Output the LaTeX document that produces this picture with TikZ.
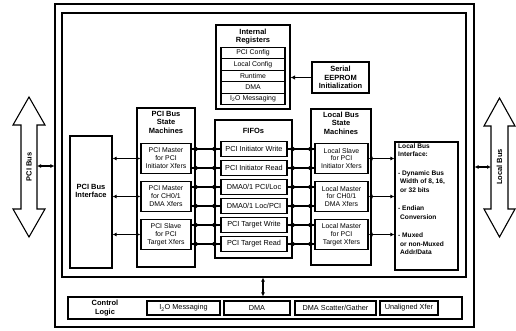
\documentclass[tikz,border=0pt]{standalone}
\usepackage{fontspec}
\setmainfont{Liberation Sans}
\usetikzlibrary{arrows.meta}
\begin{document}
\begin{tikzpicture}[x=1pt,y=-1pt,
  bx/.style={draw, line width=1.1pt, inner sep=0pt, align=center},
  ttl/.style={font=\fontsize{7.5}{8.5}\selectfont\bfseries, align=center, inner sep=0pt},
  txt/.style={font=\fontsize{7.3}{8}\selectfont, align=center},
  rtxt/.style={font=\fontsize{6.9}{7.9}\selectfont, align=center},
  con/.style={line width=1.1pt},
  dbl/.style={line width=1.1pt, {Latex[length=4pt,width=4pt]}-{Latex[length=4pt,width=4pt]}},
  busarrow/.style={draw, line width=1.1pt, fill=white, line join=miter},
  blob/.style={fill=black}
]
\useasboundingbox (0,0) rectangle (516,330);

% outer frames
\node[bx, minimum width=419pt, minimum height=323pt] (outer) at (264.5,165.5) {};
\node[bx, minimum width=404pt, minimum height=264pt] (inner) at (264,145) {};

% control logic
\node[bx, minimum width=394pt, minimum height=22pt] (ctl) at (265,308) {};
\node[ttl] (ctltxt) at (105,308) {Control\\Logic};
\node[bx, txt, minimum width=73pt, minimum height=14pt] (c1) at (183.5,308) {I\textsubscript{2}O Messaging};
\node[bx, txt, minimum width=66pt, minimum height=14pt] (c2) at (257,308) {DMA};
\node[bx, txt, minimum width=81pt, minimum height=14pt] (c3) at (335.5,308) {DMA Scatter/Gather};
\node[bx, txt, minimum width=58pt, minimum height=14pt] (c4) at (409,308) {Unaligned Xfer};
\coordinate (ax) at (263,0);
\draw[dbl] (inner.south -| ax) -- (ctl.north -| ax);

% internal registers
\node[bx, minimum width=74pt, minimum height=84pt] (ir) at (253,67) {};
\node[ttl] (irt) at (253,36.5) {Internal\\Registers};
\node[bx, rtxt, minimum width=64pt, minimum height=11.5pt] (r1) at (253,53) {PCI Config};
\node[bx, rtxt, minimum width=64pt, minimum height=11.5pt] (r2) at (253,64.5) {Local Config};
\node[bx, rtxt, minimum width=64pt, minimum height=11.5pt] (r3) at (253,76) {Runtime};
\node[bx, rtxt, minimum width=64pt, minimum height=11.5pt] (r4) at (253,87.5) {DMA};
\node[bx, rtxt, minimum width=64pt, minimum height=11.5pt] (r5) at (253,99) {I\textsubscript{2}O Messaging};

% serial EEPROM
\node[bx, ttl, draw, line width=1.1pt, minimum width=57pt, minimum height=31pt] (ee) at (340.5,77.5) {Serial\\EEPROM\\Initialization};
\draw[con, -{Latex[length=4.5pt,width=4.5pt]}] (ee.west) -- (ee.west -| ir.east);

% FIFOs
\node[bx, minimum width=77pt, minimum height=138pt] (fifo) at (253.5,189) {};
\node[ttl] (fifot) at (253.5,131) {FIFOs};
\node[bx, txt, minimum width=66pt, minimum height=15pt] (f1) at (254,149) {PCI Initiator Write};
\node[bx, txt, minimum width=66pt, minimum height=15pt] (f2) at (254,168) {PCI Initiator Read};
\node[bx, txt, minimum width=66pt, minimum height=15pt] (f3) at (254,187) {DMA0/1 PCI/Loc};
\node[bx, txt, minimum width=66pt, minimum height=15pt] (f4) at (254,206) {DMA0/1 Loc/PCI};
\node[bx, txt, minimum width=66pt, minimum height=15pt] (f5) at (254,225) {PCI Target Write};
\node[bx, txt, minimum width=66pt, minimum height=15pt] (f6) at (254,244) {PCI Target Read};

% PCI bus state machines
\node[bx, minimum width=58pt, minimum height=159pt] (psm) at (166,187.5) {};
\node[ttl] (psmt) at (166,122) {PCI Bus\\State\\Machines};
\node[bx, rtxt, minimum width=50pt, minimum height=30pt] (p1) at (166,158.5) {PCI Master\\for PCI\\Initiator Xfers};
\node[bx, rtxt, minimum width=50pt, minimum height=30pt] (p2) at (166,196.5) {PCI Master\\for CH0/1\\DMA Xfers};
\node[bx, rtxt, minimum width=50pt, minimum height=30pt] (p3) at (166,234.5) {PCI Slave\\for PCI\\Target Xfers};

% local bus state machines
\node[bx, minimum width=60pt, minimum height=156pt] (lsm) at (341,187) {};
\node[ttl] (lsmt) at (341,123) {Local Bus\\State\\Machines};
\node[bx, rtxt, minimum width=53pt, minimum height=30pt] (l1) at (341.5,158.5) {Local Slave\\for PCI\\Initiator Xfers};
\node[bx, rtxt, minimum width=53pt, minimum height=30pt] (l2) at (341.5,196.5) {Local Master\\for CH0/1\\DMA Xfers};
\node[bx, rtxt, minimum width=53pt, minimum height=30pt] (l3) at (341.5,234.5) {Local Master\\for PCI\\Target Xfers};

% PCI bus interface
\node[bx, minimum width=42pt, minimum height=132pt] (pbi) at (91,202) {};
\node[ttl] (pbit) at (91,191) {PCI Bus\\Interface};

% local bus interface
\node[bx, minimum width=63pt, minimum height=128pt] (lbi) at (426.5,206) {};
\node[anchor=north west, inner sep=0pt, align=left, font=\fontsize{6.6}{8.5}\selectfont\bfseries] (lbit) at (398,143.5)
 {Local Bus\\Interface:\\[10pt]
  - Dynamic Bus\\\hspace*{2pt}Width of 8, 16,\\\hspace*{2pt}or 32 bits\\[10pt]
  - Endian\\\hspace*{2pt}Conversion\\[10pt]
  - Muxed\\\hspace*{2pt}or non-Muxed\\\hspace*{2pt}Addr/Data};

% bus arrows
\draw[busarrow] (29,97) -- (45,125) -- (37,125) -- (37,209) -- (45,209) -- (29,237) -- (13,209) -- (21,209) -- (21,125) -- (13,125) -- cycle;
\node[ttl, rotate=90] (pcibus) at (29,167) {PCI Bus};
\coordinate (pcibusE) at (37,166);
\draw[dbl] (pcibusE) -- (pcibusE -| outer.west);

\draw[busarrow] (499.5,98) -- (515,126) -- (508,126) -- (508,209) -- (515,209) -- (499.5,237) -- (484,209) -- (491,209) -- (491,126) -- (484,126) -- cycle;
\node[ttl, rotate=90] (localbus) at (499.5,167) {Local Bus};
\coordinate (localbusW) at (491,167);
\draw[dbl] (localbusW -| outer.east) -- (localbusW);

% connectors PCI interface <-> PCI state machines
\foreach \p in {p1,p2,p3}{
  \draw[dbl] (pbi.east |- \p) -- (\p.west);
}
% connectors local state machines <-> local bus interface
\foreach \l in {l1,l2,l3}{
  \draw[dbl] (\l.east) -- (lbi.west |- \l);
}
% connectors to FIFOs
\foreach \p/\l/\f in {p1/l1/f1,p1/l1/f2,p2/l2/f3,p2/l2/f4,p3/l3/f5,p3/l3/f6}{
  \draw[con] (\p.east |- \f) -- (\f.west);
  \fill[blob] (psm.east |- \f) circle (2.2pt);
  \fill[blob] (fifo.west |- \f) circle (2.2pt);
  \draw[con] (\f.east) -- (\l.west |- \f);
  \fill[blob] (fifo.east |- \f) circle (2.2pt);
  \fill[blob] (lsm.west |- \f) circle (2.2pt);
}
\end{tikzpicture}
\end{document}
